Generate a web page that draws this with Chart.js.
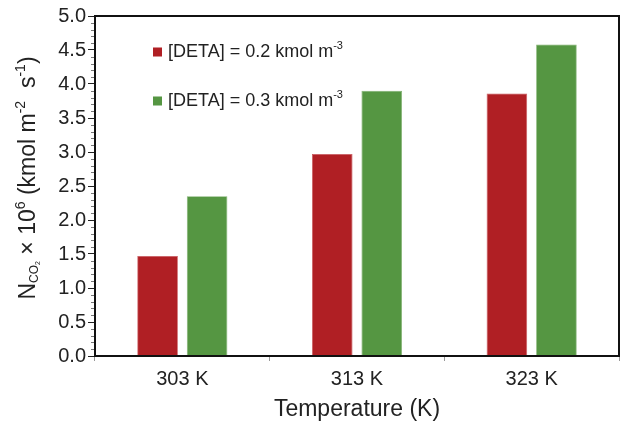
<!DOCTYPE html>
<html>
<head>
<meta charset="utf-8">
<script src="https://cdn.jsdelivr.net/npm/chart.js@4/dist/chart.umd.min.js"></script>
<style>
  html, body { margin: 0; padding: 0; background: #fff; }
  #wrap { width: 627px; height: 427px; }
</style>
</head>
<body>
<div id="wrap"><canvas id="chart"></canvas></div>
<script>
// data
var temperatures = ['303 K', '313 K', '323 K'];
var flux02 = [1.47, 2.97, 3.86];   // [DETA] = 0.2 kmol m-3
var flux03 = [2.35, 3.90, 4.58];   // [DETA] = 0.3 kmol m-3
var seriesNames = ['[DETA] = 0.2 kmol m', '[DETA] = 0.3 kmol m'];
var seriesSup = ['-3', '-3'];
var seriesColors = ['#b01f24', '#559642'];

var FONT = '"Liberation Sans", Arial, Helvetica, sans-serif';

// draws a run of text pieces, each with its own size and vertical shift
function drawRich(ctx, parts, x, y) {
    var cx = x;
    parts.forEach(function (p) {
        ctx.font = p.size + 'px ' + FONT;
        ctx.fillText(p.t, cx, y + (p.dy || 0));
        cx += ctx.measureText(p.t).width;
    });
    return cx - x;
}
function richWidth(ctx, parts) {
    var w = 0;
    parts.forEach(function (p) {
        ctx.font = p.size + 'px ' + FONT;
        w += ctx.measureText(p.t).width;
    });
    return w;
}

var extras = {
    id: 'extras',
    afterDraw: function (chart) {
        var ctx = chart.ctx;
        var a = chart.chartArea;
        var y = chart.scales.y;
        ctx.save();

        // minor ticks on the y axis
        ctx.strokeStyle = '#777';
        ctx.lineWidth = 1;
        for (var i = 0; i <= 50; i++) {
            if (i % 5 === 0) continue;
            var py = Math.round(y.getPixelForValue(i / 10)) + 0.5;
            ctx.beginPath();
            ctx.moveTo(a.left - 4, py);
            ctx.lineTo(a.left, py);
            ctx.stroke();
        }

        // frame
        ctx.strokeStyle = '#111';
        ctx.lineWidth = 2;
        ctx.strokeRect(a.left, a.top, a.right - a.left, a.bottom - a.top);

        // legend inside plot
        ctx.textBaseline = 'middle';
        ctx.fillStyle = '#222';
        var rows = [52, 101];
        chart.data.datasets.forEach(function (ds, k) {
            ctx.fillStyle = ds.backgroundColor;
            ctx.fillRect(153, rows[k] - 4.5, 9, 9);
            ctx.fillStyle = '#222';
            drawRich(ctx, [
                { t: seriesNames[k], size: 18 },
                { t: seriesSup[k], size: 11, dy: -6 }
            ], 168, rows[k]);
        });

        // y axis title
        var parts = [
            { t: 'N', size: 23 },
            { t: 'CO', size: 12, dy: 6 },
            { t: '2', size: 7, dy: 9 },
            { t: ' \u00d7 10', size: 23 },
            { t: '6', size: 14, dy: -8 },
            { t: ' (kmol m', size: 23 },
            { t: '-2', size: 14, dy: -8 },
            { t: '  s', size: 23 },
            { t: '-1', size: 14, dy: -8 },
            { t: ')', size: 23 }
        ];
        var w = richWidth(ctx, parts);
        ctx.translate(29, 178);
        ctx.rotate(-Math.PI / 2);
        ctx.fillStyle = '#222';
        drawRich(ctx, parts, -w / 2, 0);

        ctx.restore();
    }
};

new Chart(document.getElementById('chart'), {
    type: 'bar',
    data: {
        labels: temperatures,
        datasets: [{
            label: seriesNames[0] + seriesSup[0],
            data: flux02,
            backgroundColor: seriesColors[0],
            borderColor: '#c9575b',
            borderWidth: 0.8,
            categoryPercentage: 0.567,
            barPercentage: 0.82
        }, {
            label: seriesNames[1] + seriesSup[1],
            data: flux03,
            backgroundColor: seriesColors[1],
            borderColor: '#7fb06e',
            borderWidth: 0.8,
            categoryPercentage: 0.567,
            barPercentage: 0.82
        }]
    },
    options: {
        responsive: true,
        maintainAspectRatio: false,
        animation: false,
        layout: { padding: { left: 0, right: 8, top: 16, bottom: 0 } },
        plugins: {
            legend: { display: false },
            tooltip: { enabled: false }
        },
        scales: {
            x: {
                grid: {
                    offset: true,
                    drawOnChartArea: false,
                    tickLength: 5,
                    color: '#999'
                },
                border: { display: true, color: '#111', width: 2 },
                ticks: {
                    color: '#222',
                    padding: 6,
                    font: { family: FONT, size: 20 }
                },
                title: {
                    display: true,
                    text: 'Temperature (K)',
                    color: '#222',
                    padding: { top: 0, bottom: 4 },
                    font: { family: FONT, size: 23 }
                },
                afterFit: function (scale) { scale.height = 71; }
            },
            y: {
                min: 0,
                max: 5,
                grid: {
                    drawOnChartArea: false,
                    tickLength: 7,
                    color: '#222'
                },
                border: { display: true, color: '#111', width: 2 },
                ticks: {
                    stepSize: 0.5,
                    color: '#222',
                    padding: 2,
                    font: { family: FONT, size: 20 },
                    callback: function (v) { return v.toFixed(1); }
                },
                afterFit: function (scale) { scale.width = 95; }
            }
        }
    },
    plugins: [extras]
});
</script>
</body>
</html>
